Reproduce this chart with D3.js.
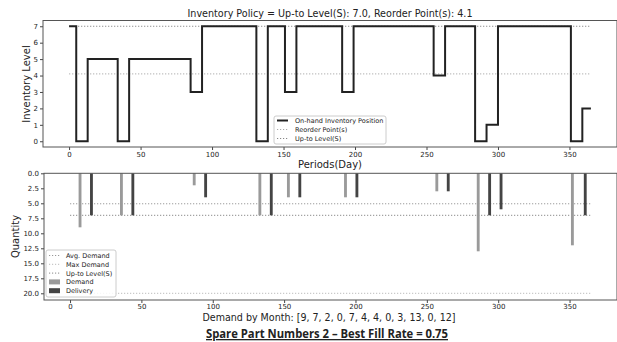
<!DOCTYPE html>
<html>
<head>
<meta charset="utf-8">
<script src="https://cdn.jsdelivr.net/npm/d3@7"></script>
<style>
body { margin: 0; background: #fff; }
text { font-family: "DejaVu Sans", sans-serif; fill: #222; }
</style>
</head>
<body>
<svg id="chart"></svg>
<script>
var w = 617;
var h = 342;
var upToLevel = 7.0
var reorderPoint = 4.1
var avgDemand = 5.08
var maxDemand = 20
// on-hand inventory, step after each day
var invDays   = [0, 5, 13, 34, 42, 85, 93, 131, 139, 151, 159, 191, 199, 255, 263, 284, 292, 300, 351, 359, 365]
var invLevels = [7, 0, 5,  0,  5,  3,  7,  0,   7,   3,   7,   3,   7,   4,   7,   0,   1,   7,   0,   2,   2]
var demandDays = [7, 36, 87, 133, 153, 193, 257, 286, 352]
var demandQty  = [9, 7,  2,  7,   4,   4,   3,   13,  12]
var deliveryDays = [15, 44, 95, 141, 161, 201, 265, 294, 302, 361]
var deliveryQty  = [7,  7,  4,  7,   4,   4,   3,   7,   6,   7]
var monthDemand = [9, 7, 2, 0, 7, 4, 4, 0, 3, 13, 0, 12]
var xTickVals = [0, 50, 100, 150, 200, 250, 300, 350]
var invTickVals = [0, 1, 2, 3, 4, 5, 6, 7]
var qtyTickVals = [0, 2.5, 5, 7.5, 10, 12.5, 15, 17.5, 20]

var svg = d3.select("#chart")
  .attr("width", w)
  .attr("height", h)
  .attr("viewBox", [0, 0, w, h]);

var xTop = d3.scaleLinear().domain([-18.25, 383.25]).range([43, 617])
var xBot = d3.scaleLinear().domain([-18.25, 383.25]).range([44, 617])
var yTop = d3.scaleLinear().domain([-0.35, 7.35]).range([147, 20.5])
var yBot = d3.scaleLinear().domain([0, 21]).range([173.3, 299.3])

function styleAxis(g){
  g.selectAll("path").remove()
  g.selectAll("line").attr("stroke", "#444")
  g.selectAll("text").style("font-size", "7px").attr("fill", "#333")
}
function frame(x0, y0, x1, y1){
  svg.append("rect")
    .attr("x", x0).attr("y", y0)
    .attr("width", x1 - x0).attr("height", y1 - y0)
    .attr("fill", "none").attr("stroke", "#555").attr("stroke-width", 1)
}

// ---------- top: inventory level ----------
svg.append("text")
  .attr("x", 330).attr("y", 17)
  .attr("text-anchor", "middle")
  .style("font-size", "11px")
  .attr("textLength", 285).attr("lengthAdjust", "spacingAndGlyphs")
  .text("Inventory Policy = Up-to Level(S): " + upToLevel.toFixed(1) + ", Reorder Point(s): " + reorderPoint)

svg.append("g").attr("transform", "translate(0,147)")
  .call(d3.axisBottom(xTop).tickValues(xTickVals).tickSize(3).tickPadding(2))
  .call(styleAxis)
svg.append("g").attr("transform", "translate(43,0)")
  .call(d3.axisLeft(yTop).tickValues(invTickVals).tickSize(3).tickPadding(2))
  .call(styleAxis)

svg.append("line")
  .attr("x1", xTop(0)).attr("x2", xTop(365))
  .attr("y1", yTop(reorderPoint)).attr("y2", yTop(reorderPoint))
  .attr("stroke", "#aaa").attr("stroke-width", 1).attr("stroke-dasharray", "1.2,1.8")
svg.append("line")
  .attr("x1", xTop(0)).attr("x2", xTop(365))
  .attr("y1", yTop(upToLevel)).attr("y2", yTop(upToLevel))
  .attr("stroke", "#888").attr("stroke-width", 1).attr("stroke-dasharray", "1.2,1.8")

var invData = invDays.map((d, i) => ({day: d, level: invLevels[i]}))
var invLine = d3.line()
  .x(d => xTop(d.day))
  .y(d => yTop(d.level))
  .curve(d3.curveStepAfter)
svg.append("path")
  .datum(invData)
  .attr("d", invLine)
  .attr("fill", "none")
  .attr("stroke", "#222")
  .attr("stroke-width", 2)

frame(43, 20.5, 617, 147)

svg.append("text")
  .attr("transform", "translate(30,84) rotate(-90)")
  .attr("text-anchor", "middle")
  .style("font-size", "10px")
  .text("Inventory Level")
svg.append("text")
  .attr("x", 330).attr("y", 168)
  .attr("text-anchor", "middle")
  .style("font-size", "10px")
  .text("Periods(Day)")

// top legend
var lgTop = svg.append("g").attr("transform", "translate(274,116)")
lgTop.append("rect").attr("width", 112).attr("height", 28).attr("rx", 2)
  .attr("fill", "#fff").attr("fill-opacity", 0.85).attr("stroke", "#ccc")
var topItems = [
  {label: "On-hand Inventory Position", color: "#222", dash: null, width: 2},
  {label: "Reorder Point(s)", color: "#aaa", dash: "1.2,1.8", width: 1},
  {label: "Up-to Level(S)", color: "#888", dash: "1.2,1.8", width: 1}
]
topItems.forEach((it, i) => {
  var yy = 4.5 + i * 9
  lgTop.append("line").attr("x1", 3).attr("x2", 14).attr("y1", yy).attr("y2", yy)
    .attr("stroke", it.color).attr("stroke-width", it.width).attr("stroke-dasharray", it.dash)
  lgTop.append("text").attr("x", 21).attr("y", yy + 2.5)
    .style("font-size", "6.5px").text(it.label)
})

// ---------- bottom: demand & delivery ----------
svg.append("g").attr("transform", "translate(0,300)")
  .call(d3.axisBottom(xBot).tickValues(xTickVals).tickSize(3).tickPadding(1.5))
  .call(styleAxis)
svg.append("g").attr("transform", "translate(44,0)")
  .call(d3.axisLeft(yBot).tickValues(qtyTickVals).tickFormat(d3.format(".1f")).tickSize(3).tickPadding(2))
  .call(styleAxis)

var refLines = [
  {v: avgDemand, color: "#999"},
  {v: upToLevel, color: "#888"},
  {v: maxDemand, color: "#bbb"}
]
svg.selectAll(".ref").data(refLines).enter().append("line")
  .attr("class", "ref")
  .attr("x1", xBot(0)).attr("x2", xBot(365))
  .attr("y1", d => yBot(d.v)).attr("y2", d => yBot(d.v))
  .attr("stroke", d => d.color).attr("stroke-width", 1).attr("stroke-dasharray", "1.2,1.8")

var barW = xBot(2) - xBot(0)
var demandData = demandDays.map((d, i) => ({day: d, q: demandQty[i]}))
var deliveryData = deliveryDays.map((d, i) => ({day: d, q: deliveryQty[i]}))
svg.selectAll(".dem").data(demandData).enter().append("rect")
  .attr("class", "dem")
  .attr("x", d => xBot(d.day) - barW / 2)
  .attr("y", yBot(0))
  .attr("width", barW)
  .attr("height", d => yBot(d.q) - yBot(0))
  .attr("fill", "#9a9a9a")
svg.selectAll(".del").data(deliveryData).enter().append("rect")
  .attr("class", "del")
  .attr("x", d => xBot(d.day) - barW / 2)
  .attr("y", yBot(0))
  .attr("width", barW)
  .attr("height", d => yBot(d.q) - yBot(0))
  .attr("fill", "#444")

frame(44, 173.3, 617, 300)

svg.append("text")
  .attr("transform", "translate(19,236.5) rotate(-90)")
  .attr("text-anchor", "middle")
  .style("font-size", "10px")
  .text("Quantity")
svg.append("text")
  .attr("x", 329).attr("y", 321)
  .attr("text-anchor", "middle")
  .style("font-size", "10px")
  .attr("textLength", 253).attr("lengthAdjust", "spacingAndGlyphs")
  .text("Demand by Month: [" + monthDemand.join(", ") + "]")

// bottom legend
var lgBot = svg.append("g").attr("transform", "translate(46,250)")
lgBot.append("rect").attr("width", 70).attr("height", 47).attr("rx", 2)
  .attr("fill", "#fff").attr("fill-opacity", 0.85).attr("stroke", "#ccc")
var botItems = [
  {label: "Avg. Demand", color: "#999", type: "line"},
  {label: "Max Demand", color: "#bbb", type: "line"},
  {label: "Up-to Level(S)", color: "#888", type: "line"},
  {label: "Demand", color: "#9a9a9a", type: "bar"},
  {label: "Delivery", color: "#444", type: "bar"}
]
botItems.forEach((it, i) => {
  var yy = 5.5 + i * 8.8
  if (it.type == "line") {
    lgBot.append("line").attr("x1", 3).attr("x2", 14).attr("y1", yy).attr("y2", yy)
      .attr("stroke", it.color).attr("stroke-width", 1).attr("stroke-dasharray", "1.2,1.8")
  } else {
    lgBot.append("rect").attr("x", 3).attr("y", yy - 2.5).attr("width", 11).attr("height", 5)
      .attr("fill", it.color)
  }
  lgBot.append("text").attr("x", 20).attr("y", yy + 2.5)
    .style("font-size", "6.5px").text(it.label)
})

// caption
svg.append("text")
  .attr("x", 327).attr("y", 338)
  .attr("text-anchor", "middle")
  .style("font-family", "'Open Sans', sans-serif")
  .style("font-weight", "bold")
  .style("font-size", "13px")
  .style("text-decoration", "underline")
  .attr("fill", "#111")
  .attr("textLength", 242).attr("lengthAdjust", "spacingAndGlyphs")
  .text("Spare Part Numbers 2 \u2013 Best Fill Rate = 0.75")
</script>
</body>
</html>
